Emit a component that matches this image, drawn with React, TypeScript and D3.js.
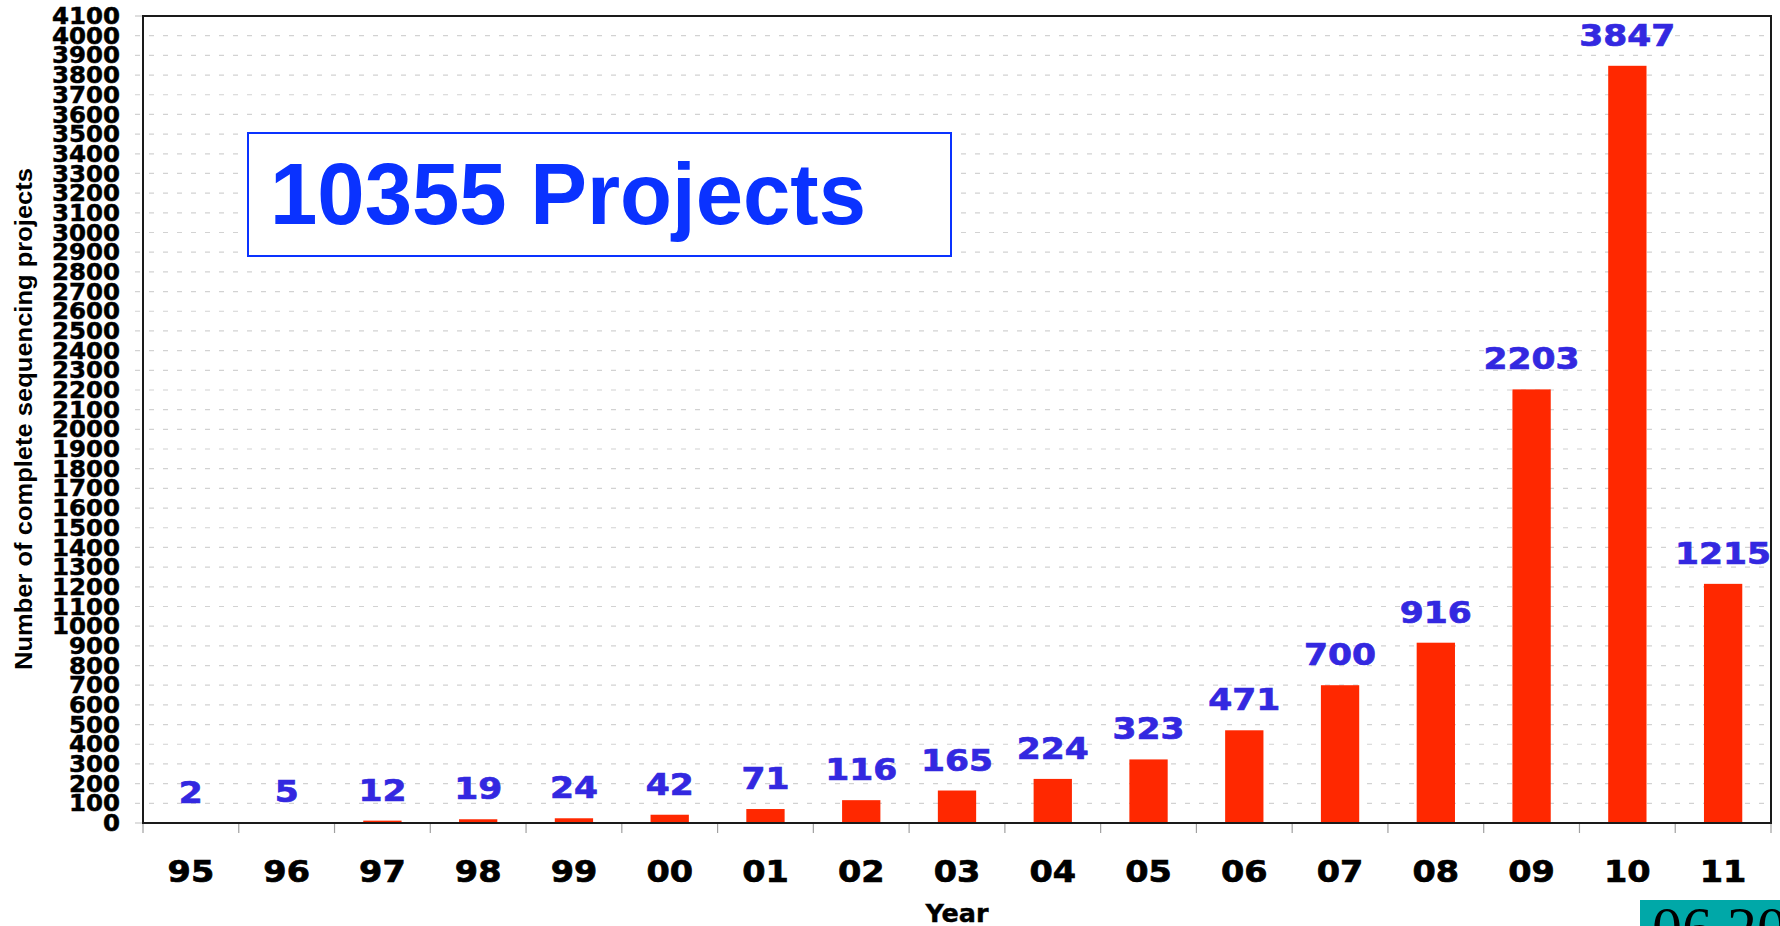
import React from 'react';
import { scaleBand, scaleLinear, range } from 'd3';

const years = ['95', '96', '97', '98', '99', '00', '01', '02', '03', '04', '05', '06', '07', '08', '09', '10', '11'];
const projects = [2, 5, 12, 19, 24, 42, 71, 116, 165, 224, 323, 471, 700, 916, 2203, 3847, 1215];
const yTicks = range(0, 4101, 100);
const totalLabel = '10355 Projects';
const yTitle = 'Number of complete sequencing projects';
const xTitle = 'Year';
const stamp = '06.2011';

const width = 1780;
const height = 926;
const margin = { top: 16, right: 9, bottom: 103, left: 143 };

const verdana = '"DejaVu Sans", Verdana, sans-serif';
const arial = '"Liberation Sans", Arial, sans-serif';

const App = () => {
  const innerWidth = width - margin.left - margin.right;
  const innerHeight = height - margin.top - margin.bottom;

  const xScale = scaleBand().domain(years).range([0, innerWidth]);
  const yScale = scaleLinear().domain([0, 4100]).range([innerHeight, 0]);
  const bw = xScale.bandwidth();
  const barW = bw * 0.4;

  return (
    <svg
      width={width}
      height={height}
      style={{ position: 'absolute', left: 0, top: 0, background: '#fff' }}
    >
      <g transform={`translate(${margin.left}, ${margin.top})`}>
        {/* grid + y labels */}
        {yTicks.map(t => (
          <g key={t} transform={`translate(0, ${yScale(t)})`}>
            {t > 0 && t < 4100 && (
              <line x1={-8} x2={innerWidth} stroke="#d2d2d2" strokeWidth={1.2} strokeDasharray="5,9" />
            )}
            {(t === 0 || t === 4100) && <line x1={-8} x2={0} stroke="#c8c8c8" strokeWidth={1.2} />}
            <text
              x={-23}
              dy="0.36em"
              textAnchor="end"
              fontFamily={verdana}
              fontWeight="bold"
              fontSize={22.5}
              textLength={String(t).length * 17}
              lengthAdjust="spacingAndGlyphs"
              fill="#000"
              stroke="#000"
              strokeWidth={0.5}
            >
              {t}
            </text>
          </g>
        ))}

        {/* x ticks */}
        {range(years.length + 1).map(i => (
          <line
            key={i}
            x1={i * bw}
            x2={i * bw}
            y1={innerHeight}
            y2={innerHeight + 10}
            stroke="#a0a0a0"
            strokeWidth={1.2}
          />
        ))}

        {/* bars */}
        {years.map((yr, i) => {
          const cx = xScale(yr) + bw / 2;
          const v = projects[i];
          return (
            <g key={yr}>
              <rect
                x={cx - barW / 2}
                y={yScale(v)}
                width={barW}
                height={innerHeight - yScale(v)}
                fill="#ff2800"
              />
              <text
                x={cx}
                y={yScale(v) - 20}
                textAnchor="middle"
                fontFamily={verdana}
                fontWeight="bold"
                fontSize={30}
                textLength={String(v).length * 24}
                lengthAdjust="spacingAndGlyphs"
                fill="#3328e0"
                stroke="#3328e0"
                strokeWidth={0.7}
              >
                {v}
              </text>
              <text
                x={cx}
                y={innerHeight + 59}
                textAnchor="middle"
                fontFamily={verdana}
                fontWeight="bold"
                fontSize={30}
                textLength={yr.length * 23.3}
                lengthAdjust="spacingAndGlyphs"
                fill="#000"
                stroke="#000"
                strokeWidth={0.7}
              >
                {yr}
              </text>
            </g>
          );
        })}

        {/* frame */}
        <rect x={0} y={0} width={innerWidth} height={innerHeight} fill="none" stroke="#1a1a1a" strokeWidth={2} />

        {/* total box */}
        <rect x={105} y={117} width={703} height={123} fill="#fff" stroke="#0a32ff" strokeWidth={2} />
        <text
          x={127}
          y={208}
          fontFamily={arial}
          fontWeight="bold"
          fontSize={88}
          textLength={596}
          lengthAdjust="spacingAndGlyphs"
          fill="#0a32ff"
        >
          {totalLabel}
        </text>

        <text
          x={innerWidth / 2}
          y={innerHeight + 99}
          textAnchor="middle"
          fontFamily={verdana}
          fontWeight="bold"
          fontSize={24}
          textLength={63}
          lengthAdjust="spacingAndGlyphs"
          fill="#000"
          stroke="#000"
          strokeWidth={0.4}
        >
          {xTitle}
        </text>
      </g>

      <text
        transform="translate(32, 419) rotate(-90)"
        textAnchor="middle"
        fontFamily={arial}
        fontWeight="bold"
        fontSize={23}
        textLength={502}
        lengthAdjust="spacingAndGlyphs"
        fill="#000"
      >
        {yTitle}
      </text>

      <rect x={1640} y={900} width={140} height={26} fill="#00a8a8" />
      <text x={1652} y={948} fontFamily={'"Liberation Serif", serif'} fontSize={60} fill="#000">
        {stamp}
      </text>
    </svg>
  );
};

export default App;
